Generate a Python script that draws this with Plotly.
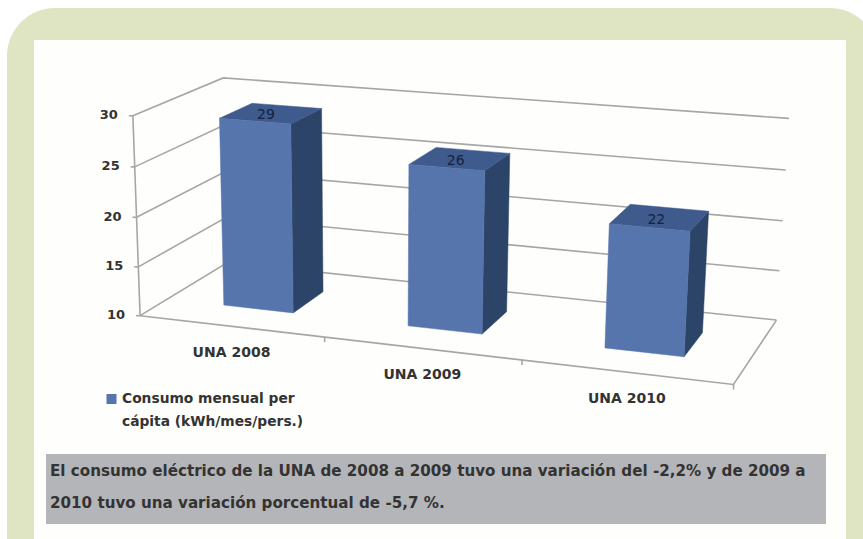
import numpy as np
import plotly.graph_objects as go

# ---- data ----
categories = ["UNA 2008", "UNA 2009", "UNA 2010"]
values = [29, 26, 22]
tick_values = [10, 15, 20, 25, 30]
series_name = ["Consumo mensual per", "cápita (kWh/mes/pers.)"]
note_lines = [
    "El consumo eléctrico de la UNA de 2008 a 2009 tuvo una variación del -2,2% y de 2009 a",
    "2010 tuvo una variación porcentual de -5,7 %.",
]

# ---- styling ----
W, H = 863, 539
AXIS_MIN, AXIS_MAX = tick_values[0], tick_values[-1]
GREEN = "#DFE4C3"
INNER = "#FEFEFD"
GREY_BOX = "#B4B5B8"
FRONT = "#5675AC"
SIDE = "#2B4468"
TOP = "#3F5A8C"
GRID = "#A6A6A6"
TEXT = "#333333"
FONT = "DejaVu Sans"
BAR_HALF = 0.064
BAR_SHIFT = 0.003
DEPTH = (0.30, 0.68)
LABEL_DEPTH = 0.43

# ---- perspective of the chart box: (slot, depth, height) in 0..1 -> page pixels ----
anchors = [
    ((0, 0, 0), (141, 316)), ((0, 0, 1), (133, 114)), ((1, 0, 0), (733, 384)),
    ((0, 1, 0), (227, 262)), ((0, 1, 1), (223, 79)), ((1, 1, 0), (777, 319)),
    ((1, 1, 1), (789, 119)), ((1 / 3, 0, 0), (324, 338)), ((2 / 3, 0, 0), (522, 361)),
]
A, b = [], []
for (u, v, w), (x, y) in anchors:
    A.append([u, v, w, 1, 0, 0, 0, 0, -x * u, -x * v, -x * w])
    A.append([0, 0, 0, 0, u, v, w, 1, -y * u, -y * v, -y * w])
    b += [x, y]
m = np.linalg.lstsq(np.array(A, float), np.array(b, float), rcond=None)[0]


def proj(u, v, val):
    w = (val - AXIS_MIN) / (AXIS_MAX - AXIS_MIN)
    d = m[8] * u + m[9] * v + m[10] * w + 1
    return ((m[0] * u + m[1] * v + m[2] * w + m[3]) / d,
            (m[4] * u + m[5] * v + m[6] * w + m[7]) / d)


def line(points, color=GRID, width=1.6):
    xs, ys = zip(*points)
    return go.Scatter(x=xs, y=ys, mode="lines", line=dict(color=color, width=width),
                      hoverinfo="skip", showlegend=False)


def face(points, color):
    xs, ys = zip(*(points + points[:1]))
    return go.Scatter(x=xs, y=ys, mode="lines", fill="toself", fillcolor=color,
                      line=dict(color=color, width=0.5), hoverinfo="skip", showlegend=False)


def label(x, y, text, size=13, anchor="middle center", color=TEXT, bold=True):
    t = f"<b>{text}</b>" if bold else text
    return go.Scatter(x=[x], y=[y], mode="text", text=[t], textposition=anchor,
                      textfont=dict(family=FONT, size=size, color=color),
                      hoverinfo="skip", showlegend=False)


fig = go.Figure()

# walls and floor
for t in tick_values:
    fig.add_trace(line([proj(0, 0, t), proj(0, 1, t), proj(1, 1, t)]))
    x, y = proj(0, 0, t)
    fig.add_trace(line([(x - 4, y), (x, y)]))
    fig.add_trace(label(x - 15, y, str(t), anchor="middle left"))
fig.add_trace(line([proj(0, 0, AXIS_MIN), proj(0, 0, AXIS_MAX)]))
fig.add_trace(line([proj(0, 0, AXIS_MIN), proj(1, 0, AXIS_MIN), proj(1, 1, AXIS_MIN)]))
n = len(categories)
for i in range(1, n + 1):
    x, y = proj(i / n, 0, AXIS_MIN)
    fig.add_trace(line([(x, y), (x, y + 5)]))

# bars
for i, (cat, val) in enumerate(zip(categories, values)):
    c = (i + 0.5) / n + BAR_SHIFT
    u0, u1 = c - BAR_HALF, c + BAR_HALF
    v0, v1 = DEPTH
    fig.add_trace(face([proj(u1, v0, AXIS_MIN), proj(u1, v1, AXIS_MIN), proj(u1, v1, val), proj(u1, v0, val)], SIDE))
    fig.add_trace(face([proj(u0, v0, val), proj(u1, v0, val), proj(u1, v1, val), proj(u0, v1, val)], TOP))
    fig.add_trace(face([proj(u0, v0, AXIS_MIN), proj(u1, v0, AXIS_MIN), proj(u1, v0, val), proj(u0, v0, val)], FRONT))
    lx, ly = proj(c, LABEL_DEPTH, val)
    fig.add_trace(label(lx, ly, str(val), size=14, color="#14233F", bold=False))
    cx, cy = proj(c, 0, AXIS_MIN)
    fig.add_trace(label(cx - 1, cy + 27, cat, size=14))

# legend
fig.add_trace(go.Scatter(x=[111.5], y=[399], mode="markers",
                         marker=dict(symbol="square", size=10, color=FRONT),
                         hoverinfo="skip", showlegend=False))
for k, s in enumerate(series_name):
    fig.add_trace(label(122, 400 + 23 * k, s, size=13.8, anchor="middle right"))

# note
for k, s in enumerate(note_lines):
    fig.add_trace(label(50, 472 + 32 * k, s, size=15.15, anchor="middle right"))

panel = ("M 7,539 L 7,56 C 7,29.5 28.5,8 55,8 L 830,8 "
         "C 856.5,8 878,29.5 878,56 L 878,539 Z")
fig.update_layout(
    width=W, height=H, margin=dict(l=0, r=0, t=0, b=0),
    paper_bgcolor="white", plot_bgcolor="white", showlegend=False,
    xaxis=dict(range=[0, W], visible=False, fixedrange=True),
    yaxis=dict(range=[H, 0], visible=False, fixedrange=True),
    shapes=[
        dict(type="path", path=panel, fillcolor=GREEN, line_width=0, layer="below"),
        dict(type="rect", x0=34, x1=846, y0=40, y1=539, fillcolor=INNER, line_width=0, layer="below"),
        dict(type="rect", x0=46, x1=826, y0=454, y1=524, fillcolor=GREY_BOX, line_width=0, layer="below"),
    ],
)
fig.write_html("out.html", config=dict(displayModeBar=False),
               post_script="document.body.style.margin='0';")
